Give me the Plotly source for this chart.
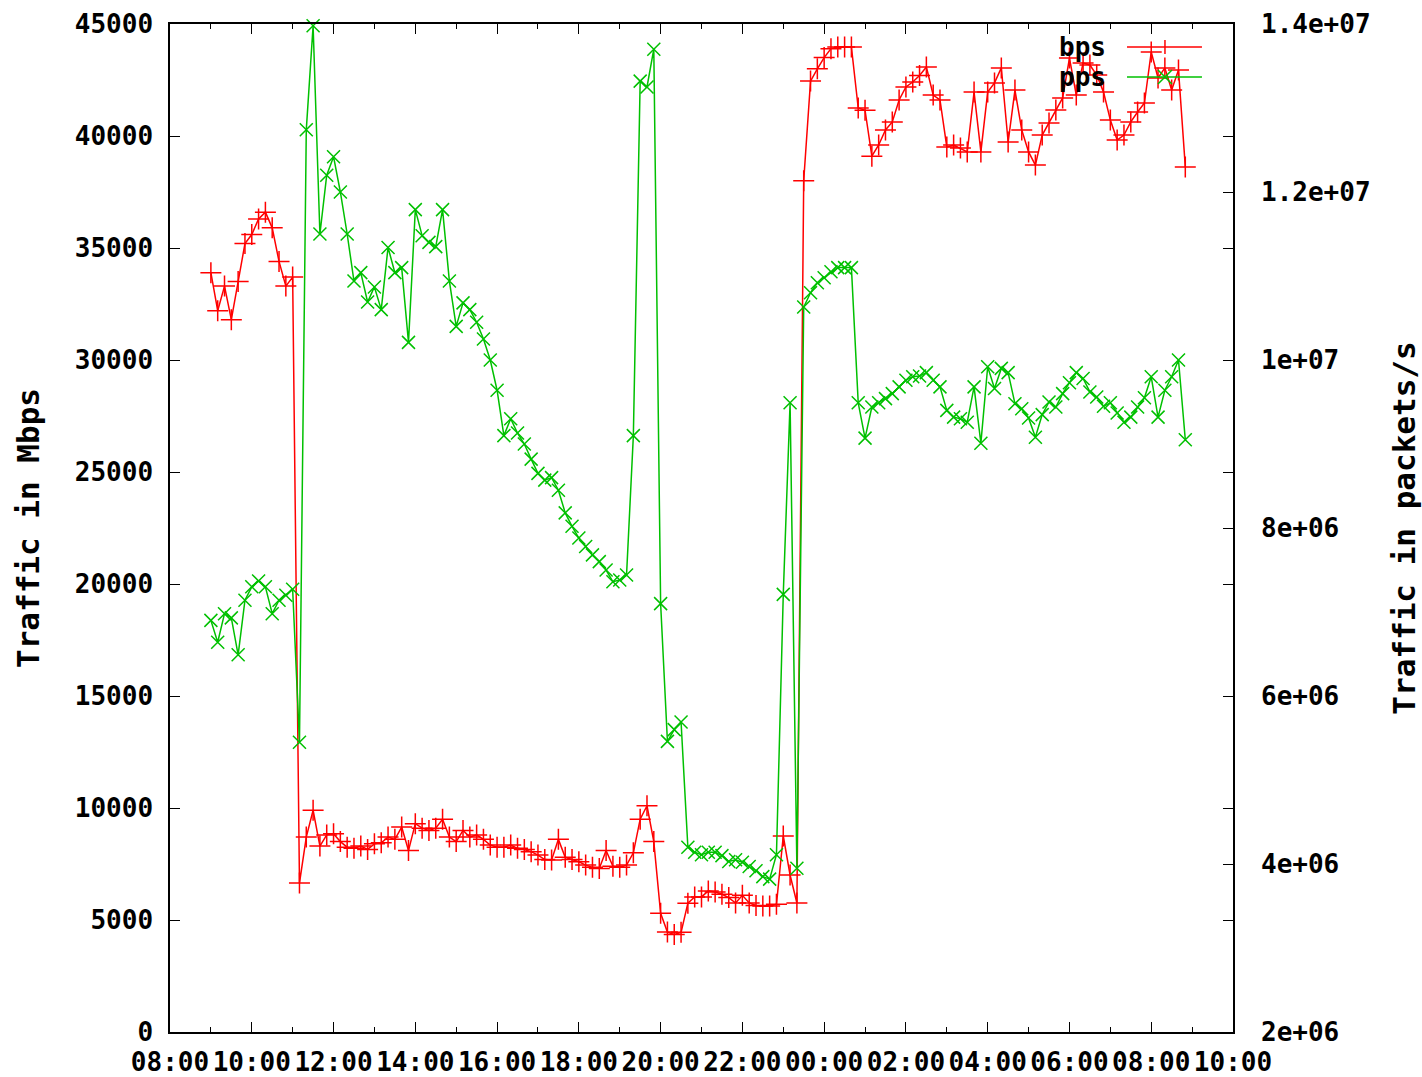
import pandas as pd
import plotly.graph_objects as go

# ---- data (10-minute samples, 09:00 -> 08:50 next day) ----
start_time = "2010-01-01 09:00"
times = pd.date_range(start_time, periods=144, freq="10min")

bps = [33900, 32200, 33300, 31800, 33500, 35200, 35600, 36300, 36600, 35900,
       34400, 33300, 33700, 6650, 8700, 9900, 8300, 8800, 8850, 8500,
       8250, 8200, 8300, 8150, 8400, 8450, 8700, 8600, 9150, 8100,
       9300, 9100, 9000, 9100, 9500, 8700, 8500, 9000, 8700, 8800,
       8600, 8350, 8250, 8250, 8350, 8200, 8150, 8050, 7900, 7700,
       7680, 8600, 7800, 7700, 7600, 7450, 7350, 7300, 8100, 7400,
       7350, 7450, 8000, 9500, 10100, 8500, 5300, 4460, 4350, 4450,
       5750, 6030, 6030, 6300, 6250, 6150, 6000, 5760, 6100, 5760,
       5650, 5625, 5625, 5700, 8750, 7010, 5760, 38000, 42450, 43000,
       43500, 43900, 43970, 43970, 43970, 41250, 41150, 39100, 39600, 40270,
       40630, 41610, 42190, 42410, 42700, 43080, 41830, 41610, 39510, 39600,
       39460, 39290, 41960, 39290, 41960, 42370, 43040, 39730, 42050, 40270,
       39290, 38700, 40040, 40580, 41160, 41700, 43480, 41830, 43260, 43170,
       42720, 41960, 40710, 39820, 40040, 40630, 41070, 41470, 43750, 42590,
       43040, 42050, 42950, 38620]

pps = [6.90e6, 6.64e6, 6.98e6, 6.93e6, 6.49e6, 7.14e6, 7.30e6, 7.37e6, 7.30e6, 6.98e6,
       7.14e6, 7.20e6, 7.27e6, 5.45e6, 12.74e6, 13.98e6, 11.5e6, 12.2e6, 12.42e6, 12.0e6,
       11.5e6, 10.94e6, 11.04e6, 10.69e6, 10.87e6, 10.6e6, 11.34e6, 11.04e6, 11.1e6, 10.21e6,
       11.79e6, 11.48e6, 11.4e6, 11.35e6, 11.79e6, 10.94e6, 10.4e6, 10.68e6, 10.6e6, 10.45e6,
       10.25e6, 10.0e6, 9.64e6, 9.1e6, 9.3e6, 9.13e6, 9.0e6, 8.82e6, 8.65e6, 8.57e6,
       8.6e6, 8.45e6, 8.18e6, 8.02e6, 7.88e6, 7.78e6, 7.68e6, 7.6e6, 7.5e6, 7.36e6,
       7.38e6, 7.44e6, 9.1e6, 13.32e6, 13.25e6, 13.7e6, 7.1e6, 5.46e6, 5.6e6, 5.69e6,
       4.2e6, 4.14e6, 4.11e6, 4.14e6, 4.14e6, 4.1e6, 4.03e6, 4.05e6, 4.02e6, 3.97e6,
       3.92e6, 3.85e6, 3.82e6, 4.11e6, 7.21e6, 9.49e6, 3.95e6, 10.63e6, 10.8e6, 10.92e6,
       10.98e6, 11.05e6, 11.1e6, 11.1e6, 11.1e6, 9.49e6, 9.07e6, 9.44e6, 9.49e6, 9.54e6,
       9.6e6, 9.68e6, 9.76e6, 9.8e6, 9.81e6, 9.85e6, 9.76e6, 9.68e6, 9.4e6, 9.32e6,
       9.3e6, 9.26e6, 9.68e6, 9.01e6, 9.92e6, 9.66e6, 9.9e6, 9.85e6, 9.48e6, 9.42e6,
       9.31e6, 9.08e6, 9.35e6, 9.5e6, 9.44e6, 9.6e6, 9.73e6, 9.85e6, 9.78e6, 9.62e6,
       9.56e6, 9.45e6, 9.49e6, 9.37e6, 9.26e6, 9.32e6, 9.44e6, 9.55e6, 9.8e6, 9.32e6,
       9.64e6, 9.8e6, 10.0e6, 9.05e6]

x_range = ["2010-01-01 08:00", "2010-01-02 10:00"]
y1_range = [0, 45000]
y2_tickvals = [2e6, 4e6, 6e6, 8e6, 1e7, 1.2e7, 1.4e7]
y2_ticktext = ["2e+06", "4e+06", "6e+06", "8e+06", "1e+07", "1.2e+07", "1.4e+07"]

RED = "#ff0000"
GREEN = "#00c000"
FONT = "DejaVu Sans Mono"
FS = 26

fig = go.Figure()
fig.add_trace(go.Scatter(
    x=times, y=bps, name="bps", mode="lines+markers",
    line=dict(color=RED, width=1.5),
    marker=dict(symbol="cross-thin", size=15, line=dict(color=RED, width=1.5)),
    cliponaxis=False))
fig.add_trace(go.Scatter(
    x=times, y=pps, name="pps", mode="lines+markers", yaxis="y2",
    line=dict(color=GREEN, width=1.5),
    marker=dict(symbol="x-thin", size=13, line=dict(color=GREEN, width=1.5)),
    cliponaxis=False))

axis_common = dict(showgrid=False, zeroline=False, ticks="inside", ticklen=10,
                   tickwidth=1, tickcolor="black", automargin=False)

fig.update_layout(
    width=1422, height=1077,
    margin=dict(l=170, r=189, t=24, b=45),
    plot_bgcolor="white", paper_bgcolor="white",
    showlegend=False,
    font=dict(family=FONT, size=FS, color="black", weight="bold"),
    xaxis=dict(type="date", range=x_range, tick0="2010-01-01 08:00", dtick=7200000,
               tickformat="%H:%M", showline=True, linecolor="black", linewidth=1.5,
               mirror="ticks", ticklabelstandoff=6,
               minor=dict(ticks="inside", ticklen=5, dtick=3600000,
                          tick0="2010-01-01 08:00", tickcolor="black", showgrid=False),
               **axis_common),
    yaxis=dict(range=y1_range, dtick=5000, tick0=0, tickformat="d",
               showline=True, linecolor="black", linewidth=1.5, mirror="ticks",
               ticklabelstandoff=10,
               title=dict(text="Traffic in Mbps", standoff=26),
               **axis_common),
    yaxis2=dict(overlaying="y", side="right", range=[2e6, 1.4e7],
                tickmode="array", tickvals=y2_tickvals, ticktext=y2_ticktext,
                showline=False, ticklabelstandoff=27,
                title=dict(text="Traffic in packets/s", standoff=35),
                **axis_common),
)

# manual gnuplot-style key (text left of sample)
def key_entry(label, color, yk, symbol):
    fig.add_annotation(x=0.8824, y=yk, xref="paper", yref="paper", text=label,
                       showarrow=False, xanchor="right", yanchor="middle",
                       font=dict(family=FONT, size=FS, color="black", weight="bold"))
    fig.add_shape(type="line", xref="paper", yref="paper", x0=0.9003, x1=0.9708,
                  y0=yk, y1=yk, line=dict(color=color, width=1.5))
    cx, dx, dy = 0.9360, 0.0066, 0.0069
    if symbol == "+":
        fig.add_shape(type="line", xref="paper", yref="paper", x0=cx, x1=cx,
                      y0=yk - dy, y1=yk + dy, line=dict(color=color, width=1.5))
    else:
        fig.add_shape(type="line", xref="paper", yref="paper", x0=cx - dx, x1=cx + dx,
                      y0=yk - dy, y1=yk + dy, line=dict(color=color, width=1.5))
        fig.add_shape(type="line", xref="paper", yref="paper", x0=cx - dx, x1=cx + dx,
                      y0=yk + dy, y1=yk - dy, line=dict(color=color, width=1.5))

key_entry("bps", RED, 0.9772, "+")
key_entry("pps", GREEN, 0.9474, "x")

fig.write_html("out.html",
               config={"displayModeBar": False},
               post_script="document.body.style.margin='0';document.body.style.overflow='hidden';")
